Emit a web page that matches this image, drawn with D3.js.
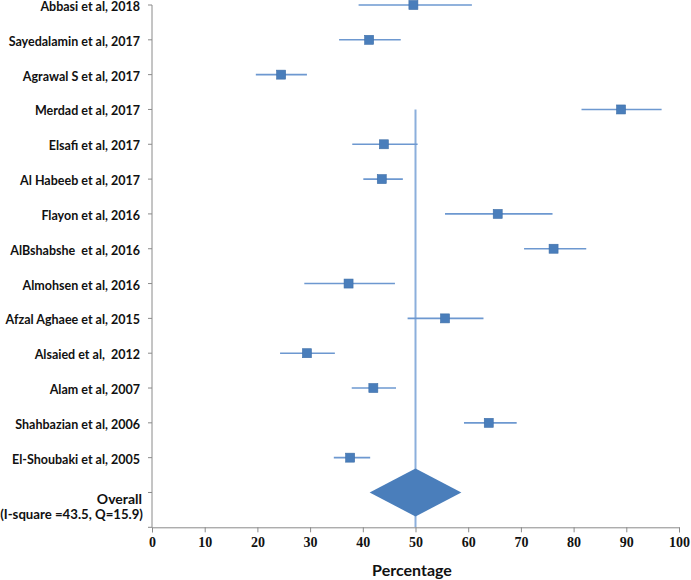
<!DOCTYPE html>
<html><head><meta charset="utf-8">
<script src="https://cdn.jsdelivr.net/npm/d3@7"></script>
<style>body{margin:0;background:#fff}svg{display:block}</style>
</head><body><svg id="c" width="691" height="580"></svg>
<script>
const studies = ["Abbasi et al, 2018","Sayedalamin et al, 2017","Agrawal S et al, 2017","Merdad et al, 2017","Elsafi et al, 2017","Al Habeeb et al, 2017","Flayon et al, 2016","AlBshabshe  et al, 2016","Almohsen et al, 2016","Afzal Aghaee et al, 2015","Alsaied et al,  2012","Alam et al, 2007","Shahbazian et al, 2006","El-Shoubaki et al, 2005"];
const estimates = [49.6,41.2,24.5,89.0,44.0,43.6,65.6,76.2,37.3,55.6,29.4,42.0,63.9,37.6];
const lower = [39.2,35.5,19.7,81.5,38.0,40.1,55.6,70.6,28.9,48.5,24.3,37.9,59.2,34.5];
const upper = [60.7,47.2,29.4,96.7,50.4,47.6,76.0,82.4,46.1,62.9,34.7,46.3,69.2,41.4];
const overallLabel = ["Overall","(I-square =43.5, Q=15.9)"];
const overall = {est:50, lo:41.3, hi:58.7};
const xTicks = [0,10,20,30,40,50,60,70,80,90,100];
const xTitle = "Percentage";
const refLineTop = 12;

const svg = d3.select("#c");
const x = d3.scaleLinear().domain([0,100]).range([152,679]);
const y = d3.scaleLinear().domain([0,15]).range([527.3,5]);
const rowY = i => y(15 - i);

const defs = svg.append("defs");
const f = defs.append("filter").attr("id","sh").attr("x","-10%").attr("y","-200%").attr("width","120%").attr("height","500%");
f.append("feGaussianBlur").attr("stdDeviation",1);

const g = svg.append("g");
// shadows for CI lines
g.selectAll("line.shadow").data(studies).join("line")
  .attr("x1",(d,i)=>x(lower[i])).attr("x2",(d,i)=>x(upper[i]))
  .attr("y1",(d,i)=>rowY(i)+3).attr("y2",(d,i)=>rowY(i)+3)
  .attr("stroke","#c8c8c8").attr("stroke-width",2).attr("filter","url(#sh)");

// reference line
g.append("line").attr("x1",x(overall.est)).attr("x2",x(overall.est))
  .attr("y1",y(refLineTop)).attr("y2",y(0))
  .attr("stroke","#8cafdc").attr("stroke-width",2);

// CI lines
g.selectAll("line.ci").data(studies).join("line")
  .attr("x1",(d,i)=>x(lower[i])).attr("x2",(d,i)=>x(upper[i]))
  .attr("y1",(d,i)=>rowY(i)).attr("y2",(d,i)=>rowY(i))
  .attr("stroke","#6d98d0").attr("stroke-width",1.6);

// squares
const s = 9;
g.selectAll("rect.pt").data(studies).join("rect")
  .attr("x",(d,i)=>x(estimates[i])-s/2).attr("y",(d,i)=>rowY(i)-s/2)
  .attr("width",s).attr("height",s)
  .attr("fill","#4a7ebb").attr("stroke","#3f6fa8").attr("stroke-width",0.6);

// diamond
const oy = y(1);
g.append("path")
  .attr("d",`M${x(overall.lo)},${oy}L${x(overall.est)},${oy-24}L${x(overall.hi)},${oy}L${x(overall.est)},${oy+24}Z`)
  .attr("fill","#4a7ebb");

// y axis
const ax = svg.append("g");
ax.append("line").attr("x1",x(0)).attr("x2",x(0)).attr("y1",y(15)).attr("y2",y(0)).attr("stroke","#8a8a8a");
ax.selectAll("line.yt").data(d3.range(0,16)).join("line")
  .attr("x1",x(0)-4).attr("x2",x(0)).attr("y1",d=>y(d)).attr("y2",d=>y(d)).attr("stroke","#8a8a8a");

// x axis
const xa = svg.append("g").attr("transform",`translate(0,${y(0)})`)
  .call(d3.axisBottom(x).tickValues(xTicks).tickSize(5).tickPadding(5));
xa.attr("font-size",null).attr("font-family",null);
xa.select(".domain").attr("stroke","#8a8a8a");
xa.selectAll(".tick line").attr("stroke","#8a8a8a");
xa.selectAll(".tick text")
  .style("font-family","'Liberation Serif', 'Times New Roman', serif")
  .style("font-weight","bold").style("font-size","14px").attr("fill","#111");

// labels
const lab = svg.append("g").style("font-family","Lato, 'Open Sans', sans-serif").style("font-weight","bold").attr("fill","#111").attr("text-anchor","end");
lab.selectAll("text.st").data(studies).join("text")
  .attr("x",140).attr("y",(d,i)=>rowY(i)+6).style("font-size","12.5px")
  .style("white-space","pre")
  .text(d=>d);
lab.append("text").attr("x",142).attr("y",oy+12).style("font-size","14px").text(overallLabel[0]);
lab.append("text").attr("x",143).attr("y",oy+27).style("font-size","13.2px").text(overallLabel[1]);

svg.append("text").attr("x",412).attr("y",576).attr("text-anchor","middle")
  .style("font-family","Lato, 'Open Sans', sans-serif").style("font-weight","bold").style("font-size","16px").attr("fill","#111")
  .text(xTitle);
</script></body></html>
